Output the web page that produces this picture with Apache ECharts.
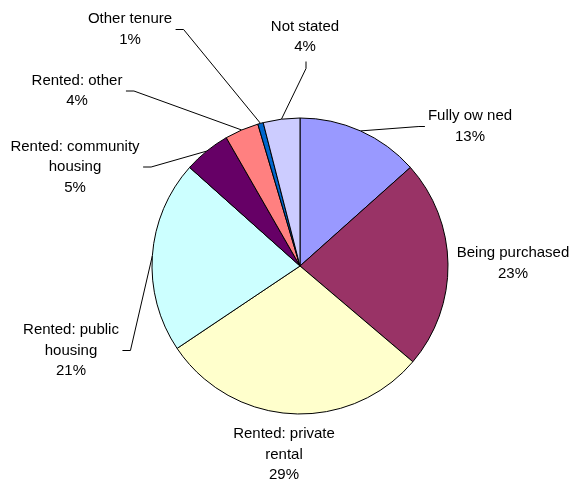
<!DOCTYPE html>
<html>
<head>
<meta charset="utf-8">
<title>Tenure type</title>
<script src="https://cdn.jsdelivr.net/npm/echarts@6/dist/echarts.min.js"></script>
<style>
  html, body { margin: 0; padding: 0; background: #ffffff; }
  #chart { width: 574px; height: 481px; }
</style>
</head>
<body>
<div id="chart"></div>
<script>
// Tenure categories (line breaks as shown in the labels)
const categories = [
  'Fully ow ned',
  'Being purchased',
  'Rented: private\nrental',
  'Rented: public\nhousing',
  'Rented: community\nhousing',
  'Rented: other',
  'Other tenure',
  'Not stated'
];

// Share of dwellings, per cent
const shares = [13.4, 22.8, 29.4, 21.0, 5.1, 3.7, 0.6, 4.0];

// Slice fills
const sliceColors = ['#9999FF', '#993366', '#FFFFCC', '#CCFFFF', '#660066', '#FF8080', '#0066CC', '#CCCCFF'];

// Label block centres and where each leader line meets its label
// side: 'left' = line leaves from the label's right edge, 'right' = from its left edge,
// 'bottom' = from below the label, null = no leader line
const labelPlacement = [
  { x: 470, y: 126.5, side: 'right' },
  { x: 513, y: 263.5, side: null },
  { x: 284, y: 454.5, side: null },
  { x: 71,  y: 350.5, side: 'left' },
  { x: 75,  y: 167,   side: 'left' },
  { x: 77,  y: 91,    side: 'left' },
  { x: 130, y: 29.5,  side: 'left' },
  { x: 305, y: 37,    side: 'bottom' }
];

const chart = echarts.init(document.getElementById('chart'), null, { renderer: 'canvas' });

const data = categories.map((name, i) => ({
  name: name,
  value: shares[i],
  itemStyle: { color: sliceColors[i] },
  labelLine: { show: labelPlacement[i].side !== null }
}));

chart.setOption({
  backgroundColor: '#ffffff',
  animation: false,
  series: [{
    type: 'pie',
    center: [300, 266],
    radius: 148,
    startAngle: 90,
    clockwise: true,
    percentPrecision: 0,
    avoidLabelOverlap: false,
    emphasis: { disabled: true },
    itemStyle: { borderColor: '#000000', borderWidth: 1 },
    label: {
      show: true,
      position: 'outside',
      formatter: '{b}\n{d}%',
      fontFamily: '"Liberation Sans", Arial, sans-serif',
      fontSize: 15,
      lineHeight: 20.5,
      color: '#000000',
      align: 'center'
    },
    labelLine: {
      show: true,
      length: 10,
      length2: 10,
      smooth: false,
      lineStyle: { color: '#000000', width: 1 }
    },
    labelLayout: function (params) {
      const p = labelPlacement[params.dataIndex];
      const w = params.labelRect.width;
      const h = params.labelRect.height;
      const out = { x: p.x, y: p.y, align: 'center', verticalAlign: 'middle' };
      const pts = params.labelLinePoints;
      if (p.side && pts && pts.length) {
        const edge = pts[0];
        let end, elbow;
        if (p.side === 'left') {
          end = [p.x + w / 2 + 3.5, p.y];
          elbow = [end[0] + 8, p.y];
        } else if (p.side === 'right') {
          end = [p.x - w / 2 - 3, p.y];
          elbow = [end[0] - 6, p.y];
        } else {
          end = [p.x + 1, p.y + h / 2 + 4];
          elbow = [end[0], end[1] + 7];
        }
        out.labelLinePoints = [edge, elbow, end];
      }
      return out;
    },
    data: data
  }]
});
</script>
</body>
</html>
